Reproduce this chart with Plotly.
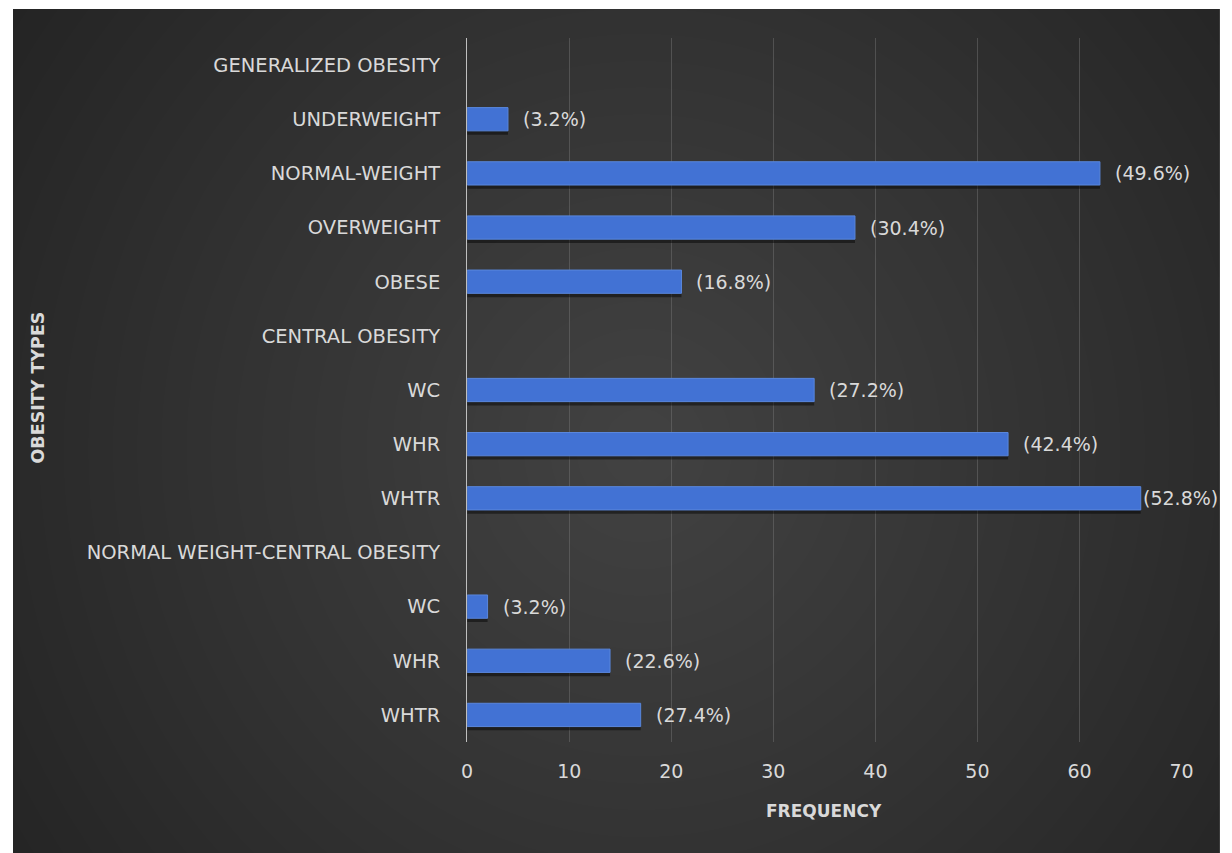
import numpy as np
import plotly.graph_objects as go

# Obesity categories, top to bottom (heading rows carry no bar)
categories = [
    "GENERALIZED OBESITY", "UNDERWEIGHT", "NORMAL-WEIGHT", "OVERWEIGHT", "OBESE",
    "CENTRAL OBESITY", "WC", "WHR", "WHTR",
    "NORMAL WEIGHT-CENTRAL OBESITY", "WC", "WHR", "WHTR",
]
frequency = [None, 4, 62, 38, 21, None, 34, 53, 66, None, 2, 14, 17]
percent_labels = [None, "(3.2%)", "(49.6%)", "(30.4%)", "(16.8%)", None,
                  "(27.2%)", "(42.4%)", "(52.8%)", None, "(3.2%)", "(22.6%)", "(27.4%)"]
x_ticks = [0, 10, 20, 30, 40, 50, 60, 70]

W, H = 1232, 853
FONT = "DejaVu Sans"
TXT = "#d9d9d9"

rows = list(range(len(categories)))

fig = go.Figure()

# Dark radial backdrop behind the plot (own hidden axes)
nx, ny = 80, 56
gx = np.linspace(0, 1, nx)
gy = np.linspace(0, 1, ny)
XX, YY = np.meshgrid(gx, gy)
dist = np.sqrt(((XX - 0.52) * 1225) ** 2 + ((YY - 0.48) * 844) ** 2) / 760.0
fig.add_trace(go.Heatmap(
    x=gx, y=gy, z=np.clip(dist, 0, 1), zsmooth="best", showscale=False,
    colorscale=[[0, "rgb(66,66,66)"], [0.55, "rgb(50,50,50)"], [1, "rgb(36,36,36)"]],
    zmin=0, zmax=1, hoverinfo="skip", xaxis="x", yaxis="y",
))

bw = 0.43

# soft drop shadow under each bar
fig.add_trace(go.Bar(
    x=frequency, y=rows, orientation="h", width=bw, offset=-bw / 2 + 0.07,
    marker=dict(color="rgba(0,0,0,0.45)", line=dict(width=0)),
    hoverinfo="skip", xaxis="x2", yaxis="y2", showlegend=False,
))
fig.add_trace(go.Bar(
    x=frequency, y=rows, orientation="h", width=bw, offset=-bw / 2,
    marker=dict(color="#4272d4", line=dict(color="#5a87dc", width=1)),
    xaxis="x2", yaxis="y2", showlegend=False,
))

# plot area in pixels
x0_px, x1_px = 468, 1193
y0_px, y1_px = 38, 742

annotations = []
for i, (v, lab) in enumerate(zip(frequency, percent_labels)):
    if v is None:
        continue
    shift = 0 if v >= 66 else 13
    annotations.append(dict(
        x=v, y=i, xref="x2", yref="y2", text=lab, showarrow=False,
        xanchor="left", yanchor="middle", xshift=shift,
        font=dict(family=FONT, size=19, color=TXT),
    ))

annotations.append(dict(
    x=32 / W, y=1 - 388 / H, xref="paper", yref="paper", text="<b>OBESITY TYPES</b>",
    textangle=-90, showarrow=False, xanchor="center", yanchor="middle",
    font=dict(family=FONT, size=17.5, color=TXT),
))
annotations.append(dict(
    x=830 / W, y=1 - 811 / H, xref="paper", yref="paper", text="<b>FREQUENCY</b>",
    showarrow=False, xanchor="center", yanchor="middle",
    font=dict(family=FONT, size=17, color=TXT),
))

fig.update_layout(
    width=W, height=H,
    margin=dict(l=0, r=0, t=0, b=0),
    paper_bgcolor="white", plot_bgcolor="rgba(0,0,0,0)",
    barmode="overlay", showlegend=False,
    xaxis=dict(domain=[7 / W, 1], range=[0.008, 0.992], visible=False, fixedrange=True),
    yaxis=dict(domain=[0, 1 - 9 / H], range=[0.012, 0.988], visible=False, fixedrange=True),
    xaxis2=dict(
        domain=[x0_px / W, x1_px / W], range=[0, 70], anchor="y2",
        tickvals=x_ticks, showgrid=True, gridcolor="rgba(120,120,120,0.45)", gridwidth=1,
        zeroline=False, showline=False, ticks="",
        tickfont=dict(family=FONT, size=19, color=TXT), ticklabelstandoff=16,
    ),
    yaxis2=dict(
        domain=[1 - y1_px / H, 1 - y0_px / H], range=[12.5, -0.5], anchor="x2",
        tickvals=rows, ticktext=categories, showgrid=False, zeroline=False,
        showline=True, linecolor="#bfbfbf", linewidth=1, ticks="",
        tickfont=dict(family=FONT, size=19.5, color=TXT), ticklabelstandoff=22,
    ),
    annotations=annotations,
)

fig.write_html("out.html")
